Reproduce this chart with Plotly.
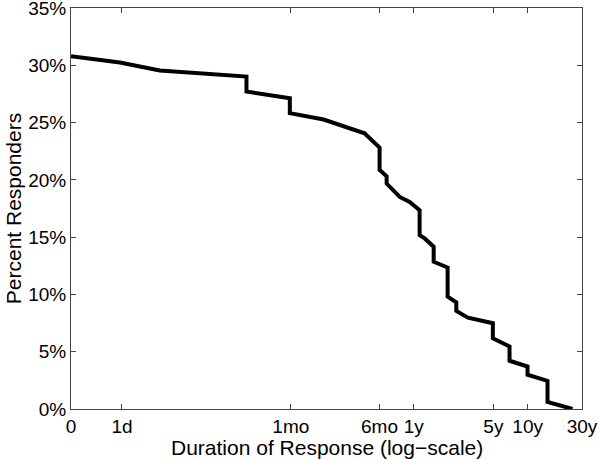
import numpy as np
import plotly.graph_objects as go

# duration of response in days (0 = start)
duration_days = [0, 0.96, 2.15, 12.4, 12.4, 29.8, 29.8, 59, 135, 183, 183, 211, 211,
                 275, 336, 411, 411, 455, 546, 546, 724, 724, 863, 863, 1091, 1807,
                 1807, 2532, 2532, 3642, 3642, 5458, 5458, 9040]
percent_responders = [30.8, 30.24, 29.54, 29.02, 27.71, 27.13, 25.82, 25.27, 24.06, 22.82,
                      20.88, 20.31, 19.68, 18.51, 18.07, 17.35, 15.18, 14.89, 14.17, 12.85,
                      12.35, 9.80, 9.30, 8.56, 7.97, 7.49, 6.18, 5.45, 4.21, 3.71, 2.99,
                      2.45, 0.62, 0.0]

tick_labels = ["0", "1d", "1mo", "6mo", "1y", "5y", "10y", "30y"]
tick_days = [0, 1, 30.4, 182.6, 365.25, 1826, 3652, 10957]
y_ticks = [0, 5, 10, 15, 20, 25, 30, 35]
y_labels = ["0%", "5%", "10%", "15%", "20%", "25%", "30%", "35%"]

# a log axis cannot show 0, so "0" sits at the left edge of the axis
ZERO_POS = 0.357

x = [d if d > 0 else ZERO_POS for d in duration_days]
xt = [d if d > 0 else ZERO_POS for d in tick_days]

fig = go.Figure()
fig.add_trace(go.Scatter(x=x, y=percent_responders, mode="lines",
                         line=dict(color="black", width=4), showlegend=False))

FONT = "Liberation Sans, Arial, sans-serif"
axis_font = dict(family=FONT, size=19, color="black")
title_font = dict(family=FONT, size=21, color="black")
fig.update_layout(
    width=600, height=459,
    margin=dict(l=71, r=18, t=8, b=50),
    paper_bgcolor="white", plot_bgcolor="white",
    font=axis_font,
)
fig.update_xaxes(type="log", range=[np.log10(ZERO_POS), np.log10(10957)],
                 tickvals=xt, ticktext=tick_labels,
                 ticks="inside", ticklen=5, tickcolor="#444",
                 showline=True, linecolor="#444", linewidth=1, mirror="ticks",
                 showgrid=False, zeroline=False, automargin=False,
                 ticklabeloverflow="allow", tickfont=axis_font)
fig.update_yaxes(range=[0, 35.001], tickvals=y_ticks, ticktext=y_labels,
                 ticks="inside", ticklen=5, tickcolor="#444",
                 showline=True, linecolor="#444", linewidth=1, mirror="ticks",
                 showgrid=False, zeroline=False, automargin=False,
                 ticklabeloverflow="allow",
                 title=dict(text="Percent Responders", standoff=0, font=title_font),
                 tickfont=axis_font)

# x title sits tight under the tick labels, as in the original
fig.add_annotation(text="Duration of Response (log\u2212scale)", xref="paper", yref="paper",
                   x=0.5, y=0, xanchor="center", yanchor="top", yshift=-25,
                   showarrow=False, font=title_font)

# drop the browser's default body margin so the figure fills the window
fig.write_html("out.html", config={"displayModeBar": False},
               post_script="document.body.style.margin='0';")
